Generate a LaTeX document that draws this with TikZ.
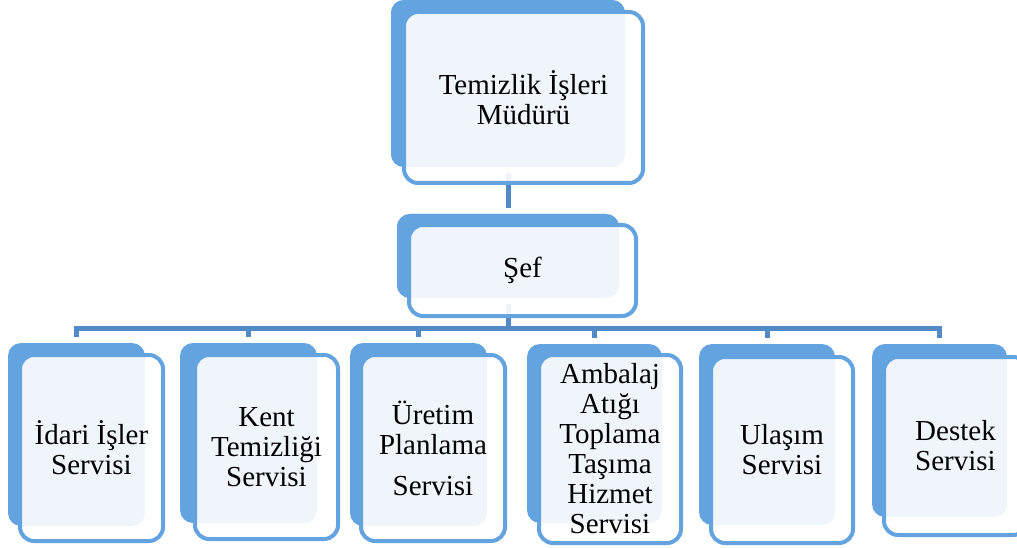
\documentclass[tikz,border=0pt]{standalone}
\usepackage{fontspec}
\setmainfont{Liberation Serif}
\definecolor{backblue}{RGB}{99,163,223}
\definecolor{connblue}{RGB}{82,137,199}
\begin{document}
\begin{tikzpicture}[x=1pt,y=-1pt,
  backbox/.style={fill=backblue,draw=none,rounded corners=13pt,inner sep=0pt,outer sep=0pt},
  frontbox/.style={draw=backblue,line width=4pt,fill=white,fill opacity=0.9,draw opacity=1,text opacity=1,
    rounded corners=14pt,inner sep=0pt,outer sep=0pt,align=center,font=\fontsize{29}{30}\selectfont},
  conn/.style={draw=connblue,line width=5pt,shorten <=6pt,shorten >=6pt}]
\useasboundingbox (0,0) rectangle (1017,548);
% back boxes
\node[backbox,minimum width=234pt,minimum height=167pt] (topb) at (508,83.5) {};
\node[backbox,minimum width=222pt,minimum height=84pt] (sefb) at (508,256) {};
\node[backbox,minimum width=137pt,minimum height=183pt] (b1b) at (76.5,434.5) {};
\node[backbox,minimum width=137pt,minimum height=180pt] (b2b) at (248.5,433) {};
\node[backbox,minimum width=137pt,minimum height=183pt] (b3b) at (418.5,434.5) {};
\node[backbox,minimum width=135pt,minimum height=179pt] (b4b) at (594.5,433.5) {};
\node[backbox,minimum width=136pt,minimum height=181pt] (b5b) at (767,434.5) {};
\node[backbox,minimum width=135pt,minimum height=173pt] (b6b) at (939.5,430.5) {};
% connectors
\coordinate (bus) at (508,328.5);
\begin{scope}[on background layer/.style={}]
\draw[conn] (topb.south) -- (sefb.north);
\draw[conn] (sefb.south) -- (bus) -| (b1b.north);
\draw[conn] (sefb.south) -- (bus) -| (b2b.north);
\draw[conn] (sefb.south) -- (bus) -| (b3b.north);
\draw[conn] (sefb.south) -- (bus) -| (b4b.north);
\draw[conn] (sefb.south) -- (bus) -| (b5b.north);
\draw[conn] (sefb.south) -- (bus) -| (b6b.north);
\end{scope}
% redraw back boxes over connector ends
\fill[backblue,rounded corners=13pt] (topb.south west) rectangle (topb.north east);
\fill[backblue,rounded corners=13pt] (sefb.south west) rectangle (sefb.north east);
% front boxes
\node[frontbox,minimum width=239pt,minimum height=171pt] (top) at (523.5,97.5) {Temizlik İşleri\\Müdürü};
\node[frontbox,minimum width=227pt,minimum height=91pt] (sef) at (522.5,270.5) {Şef};
\node[frontbox,minimum width=143pt,minimum height=186pt] (b1) at (91.5,448) {İdari İşler\\Servisi};
\node[frontbox,minimum width=143pt,minimum height=184pt] (b2) at (266.5,447) {Kent\\Temizliği\\Servisi};
\node[frontbox,minimum width=144pt,minimum height=186pt] (b3) at (433,448) {Üretim\\Planlama\\[11pt]Servisi};
\node[frontbox,minimum width=142pt,minimum height=188pt] (b4) at (610,449) {Ambalaj\\Atığı\\Toplama\\Taşıma\\Hizmet\\Servisi};
\node[frontbox,minimum width=142pt,minimum height=186pt] (b5) at (782,450) {Ulaşım\\Servisi};
\node[frontbox,minimum width=143pt,minimum height=178pt] (b6) at (955.5,446) {Destek\\Servisi};
\end{tikzpicture}
\end{document}
